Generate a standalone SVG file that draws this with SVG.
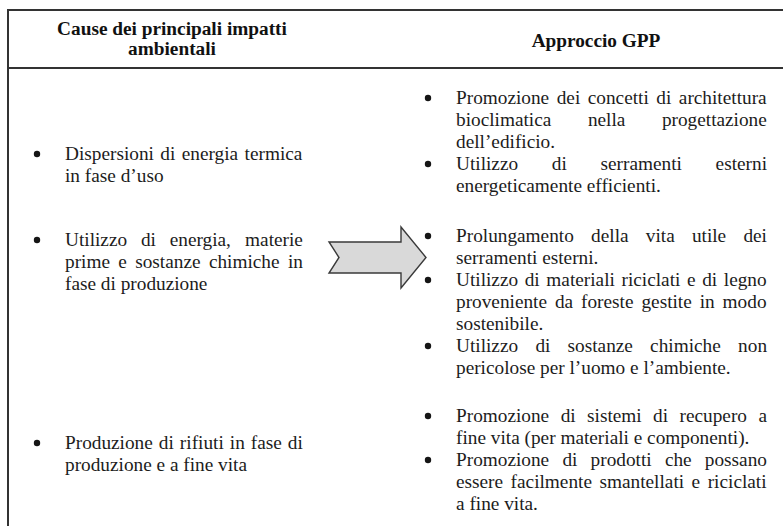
<svg xmlns="http://www.w3.org/2000/svg" width="783" height="526" viewBox="0 0 783 526">
<style>
.t{font-family:"Liberation Serif","Times New Roman",serif;font-size:19.3px;fill:#1c1c1c}
.h{font-weight:bold;fill:#111}
.rule{stroke:#333;stroke-width:2;fill:none}
.bul{fill:#151515}
.arrow{fill:#d9d9d9;stroke:#3a3a3a;stroke-width:1.4;stroke-linejoin:miter}
</style>
<rect width="783" height="526" fill="#ffffff"/>
<g id="table-frame">
<line class="rule" x1="8" y1="10" x2="783" y2="10"/>
<line class="rule" x1="8" y1="68" x2="783" y2="68"/>
<line class="rule" x1="8" y1="9" x2="8" y2="526"/>
</g>
<g id="header-cause">
<text class="t h" x="172" y="35" text-anchor="middle">Cause dei principali impatti</text>
<text class="t h" x="172" y="55" text-anchor="middle">ambientali</text>
</g>
<g id="header-gpp">
<text class="t h" x="596" y="47" text-anchor="middle">Approccio GPP</text>
</g>
<g id="cause-1">
<circle class="bul" cx="37" cy="154" r="3.2"/>
<text class="t" x="65" y="160" word-spacing="1.6">Dispersioni di energia termica</text>
<text class="t" x="65" y="182">in fase d’uso</text>
</g>
<g id="cause-2">
<circle class="bul" cx="37" cy="240" r="3.2"/>
<text class="t" y="246"><tspan x="65">Utilizzo</tspan><tspan x="140.9">di</tspan><tspan x="169.7">energia,</tspan><tspan x="245.1">materie</tspan></text>
<text class="t" y="268"><tspan x="65">prime</tspan><tspan x="118.3">e</tspan><tspan x="135.2">sostanze</tspan><tspan x="208.9">chimiche</tspan><tspan x="288">in</tspan></text>
<text class="t" x="65" y="290">fase di produzione</text>
</g>
<g id="cause-3">
<circle class="bul" cx="37" cy="443" r="3.2"/>
<text class="t" x="65" y="449" word-spacing="1.2">Produzione di rifiuti in fase di</text>
<text class="t" x="65" y="471">produzione e a fine vita</text>
</g>
<g id="gpp-1">
<circle class="bul" cx="428" cy="98" r="3.2"/>
<text class="t" x="456" y="104" word-spacing="2.7">Promozione dei concetti di architettura</text>
<text class="t" y="126"><tspan x="456">bioclimatica</tspan><tspan x="587.9">nella</tspan><tspan x="661.9">progettazione</tspan></text>
<text class="t" x="456" y="148">dell’edificio.</text>
<circle class="bul" cx="428" cy="164" r="3.2"/>
<text class="t" y="170"><tspan x="456">Utilizzo</tspan><tspan x="551.8">di</tspan><tspan x="600.5">serramenti</tspan><tspan x="715.6">esterni</tspan></text>
<text class="t" x="456" y="192">energeticamente efficienti.</text>
</g>
<g id="gpp-2">
<circle class="bul" cx="428" cy="236" r="3.2"/>
<text class="t" y="242"><tspan x="456">Prolungamento</tspan><tspan x="591.1">della</tspan><tspan x="645.8">vita</tspan><tspan x="691.9">utile</tspan><tspan x="743.4">dei</tspan></text>
<text class="t" x="456" y="264">serramenti esterni.</text>
<circle class="bul" cx="428" cy="280" r="3.2"/>
<text class="t" x="456" y="286" word-spacing="1.8">Utilizzo di materiali riciclati e di legno</text>
<text class="t" x="456" y="308" word-spacing="3.1">proveniente da foreste gestite in modo</text>
<text class="t" x="456" y="330">sostenibile.</text>
<circle class="bul" cx="428" cy="346" r="3.2"/>
<text class="t" y="352"><tspan x="456">Utilizzo</tspan><tspan x="535.4">di</tspan><tspan x="567.6">sostanze</tspan><tspan x="650.1">chimiche</tspan><tspan x="738.1">non</tspan></text>
<text class="t" x="456" y="374">pericolose per l’uomo e l’ambiente.</text>
</g>
<g id="gpp-3">
<circle class="bul" cx="428" cy="416" r="3.2"/>
<text class="t" y="422"><tspan x="456">Promozione</tspan><tspan x="560.7">di</tspan><tspan x="587.1">sistemi</tspan><tspan x="653.1">di</tspan><tspan x="679.5">recupero</tspan><tspan x="758.4">a</tspan></text>
<text class="t" x="456" y="444">fine vita (per materiali e componenti).</text>
<circle class="bul" cx="428" cy="460" r="3.2"/>
<text class="t" y="466"><tspan x="456">Promozione</tspan><tspan x="562.4">di</tspan><tspan x="590.6">prodotti</tspan><tspan x="664.9">che</tspan><tspan x="704.8">possano</tspan></text>
<text class="t" x="456" y="488" word-spacing="2.7">essere facilmente smantellati e riciclati</text>
<text class="t" x="456" y="510">a fine vita.</text>
</g>
<g id="connectors">
<path class="arrow" d="M329,242 L401,242 L401,227 L426,257.5 L401,288 L401,273 L329,273 L339,257.5 Z"/>
</g>
</svg>
